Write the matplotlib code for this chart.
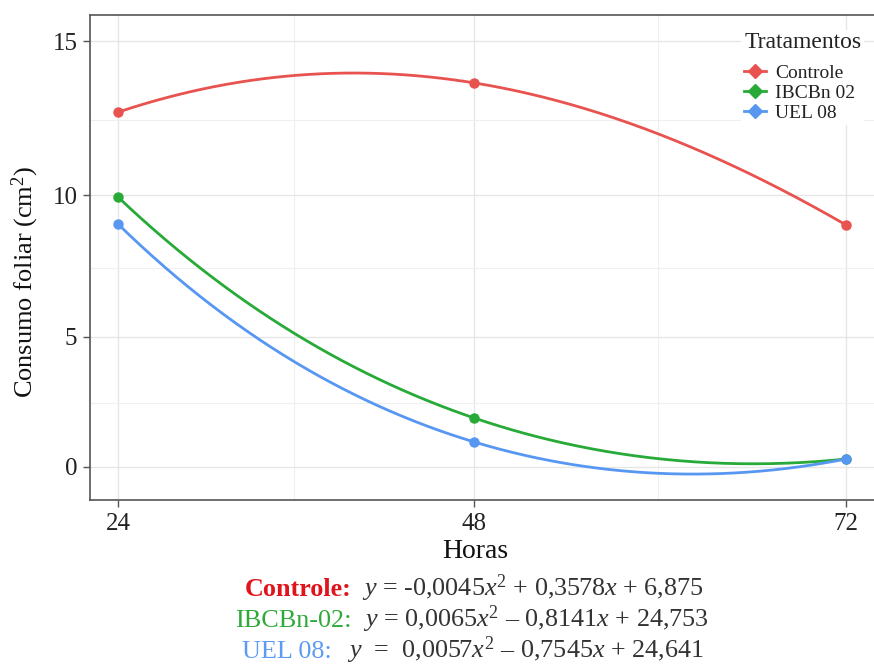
import numpy as np
import matplotlib
matplotlib.use("Agg")
import matplotlib.pyplot as plt
from matplotlib.lines import Line2D

# ---- data ----
horas = [24, 48, 72]
controle = [12.74, 13.68, 8.98]
ibcbn02 = [9.93, 1.94, 0.32]
uel08 = [9.01, 1.00, 0.32]
series_names = ["Controle", "IBCBn 02", "UEL 08"]
colors = ["#E8524F", "#27AA37", "#5797F2"]
eq_prefix = ["Controle:", "IBCBn-02:", "UEL 08:"]
eq_colors = ["#E0141C", "#2EAA3A", "#5B9BF5"]
eq_body = [r"$y$ = -0,0045$x^2$ + 0,3578$x$ + 6,875",
           r"$y$ = 0,0065$x^2$ – 0,8141$x$ + 24,753",
           r"$y$  =  0,0057$x^2$ – 0,7545$x$ + 24,641"]
yticks = [0, 5, 10, 15]
yminor = [2.5, 7.5, 12.5]
xticks = [24, 48, 72]
xminor = [36, 60]

plt.rcParams['font.family'] = ['Liberation Serif', 'DejaVu Serif']
plt.rcParams['mathtext.fontset'] = 'custom'
plt.rcParams['mathtext.rm'] = 'Liberation Serif'
plt.rcParams['mathtext.it'] = 'Liberation Serif:italic'

fig = plt.figure(figsize=(8.74, 6.66), dpi=100)
ax = fig.add_axes([90/874, 1-500/666, 1-90/874, 485/666])

# slightly nonlinear axes (as in the reference picture)
def yf(v):
    v = np.asarray(v, float)
    return 24.8*v + 0.24*v**2
def yi(f):
    f = np.asarray(f, float)
    return (-24.8 + np.sqrt(np.maximum(24.8**2 + 0.96*f, 0)))/0.48
B = 1/72
def xf(x):
    u = np.asarray(x, float) - 24
    return 14.5*u + B*u**2
def xi(g):
    g = np.asarray(g, float)
    return 24 + (-14.5 + np.sqrt(np.maximum(14.5**2 + 4*B*g, 0)))/(2*B)

ax.set_yscale('function', functions=(yf, yi))
ax.set_xscale('function', functions=(xf, xi))

xs = np.linspace(24, 72, 300)
for vals, c in zip([controle, ibcbn02, uel08], colors):
    p = np.polyfit(horas, vals, 2)
    ax.plot(xs, np.polyval(p, xs), color=c, lw=2.0, zorder=3)
    ax.plot(horas, vals, 'o', color=c, ms=6.5, zorder=4)

ax.set_xlim(22.06, 73.76)
ax.set_ylim(-1.35, 15.81)
ax.set_yticks(yticks)
ax.set_yticks(yminor, minor=True)
ax.set_xticks(xticks)
ax.set_xticks(xminor, minor=True)
ax.set_yticklabels([str(t) for t in yticks])
ax.set_xticklabels([str(t) for t in xticks])
ax.grid(True, which='major', color='#E6E6E6', lw=1.0, zorder=0)
ax.grid(True, which='minor', color='#EFEFEF', lw=0.8, zorder=0)
ax.set_axisbelow(True)

for s in ['left', 'bottom', 'top']:
    ax.spines[s].set_color('#555555')
    ax.spines[s].set_linewidth(1.2)
ax.spines['right'].set_visible(False)
ax.tick_params(which='major', length=5, width=1.0, color='#555555',
               labelsize=18, labelcolor='#222222', pad=4)
ax.tick_params(which='minor', length=0)

ax.set_ylabel(r"Consumo foliar (cm$^2$)", fontsize=19, color='#111111')
ax.yaxis.set_label_coords(-0.062, 0.45)
ax.set_xlabel("Horas", fontsize=20, color='#111111')
ax.xaxis.set_label_coords(0.491, -0.08)

handles = [Line2D([0], [0], color=c, lw=2, marker='D', ms=7) for c in colors]
leg = ax.legend(handles, series_names, title="Tratamentos", loc='upper right',
                bbox_to_anchor=(1.0, 0.99), fontsize=14, title_fontsize=17,
                frameon=True, handlelength=1.1, handletextpad=0.5,
                labelspacing=0.14, alignment='left', borderpad=0.15)
leg._legend_box.sep = 7.5
leg.get_frame().set_edgecolor('none')
leg.get_frame().set_facecolor('white')
leg.get_frame().set_alpha(1)
leg.get_title().set_color('#222222')
for t in leg.get_texts():
    t.set_color('#222222')

ys = [1-596/666, 1-627/666, 1-658/666]
split_pre = [352, 352, 332]
split_body = [362, 363, 347]
for pre, col, body, y, xp, xb in zip(eq_prefix, eq_colors, eq_body, ys, split_pre, split_body):
    fig.text(xp/874, y, pre, color=col, fontsize=18.8, ha='right', va='baseline',
             fontweight='bold' if pre == "Controle:" else 'normal')
    fig.text(xb/874, y, body, color='#333333', fontsize=18.8, ha='left', va='baseline')

fig.savefig("out.png", dpi=100)
